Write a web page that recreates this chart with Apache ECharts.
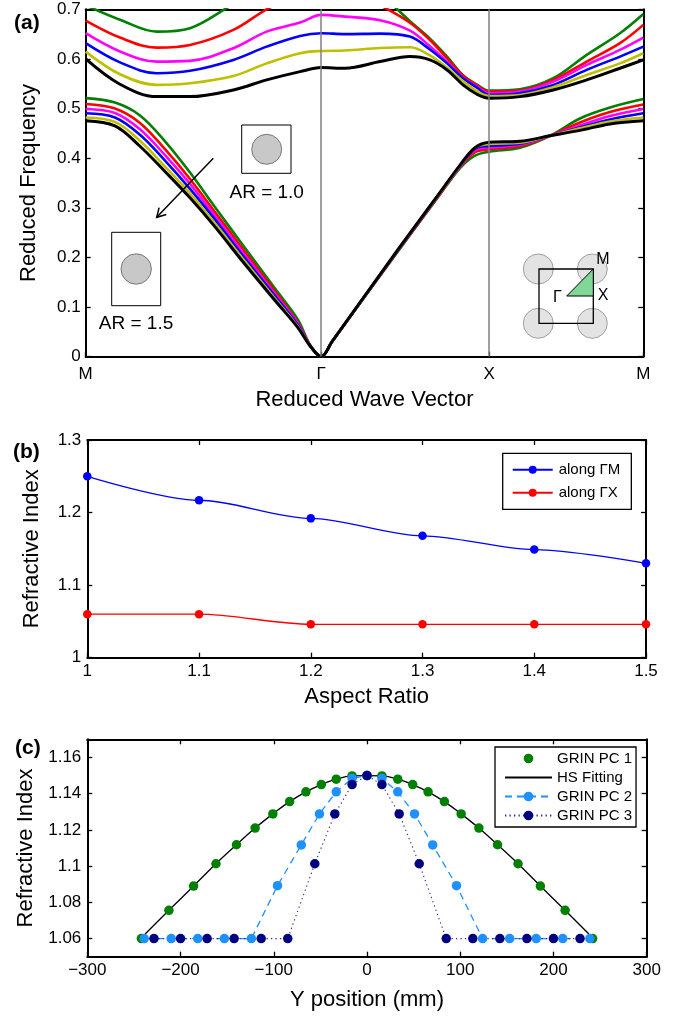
<!DOCTYPE html>
<html><head><meta charset="utf-8">
<script src="https://cdn.jsdelivr.net/npm/echarts@6/dist/echarts.min.js"></script>
<style>html,body{margin:0;padding:0;background:#fff}#c{width:675px;height:1018px}</style>
</head><body><div id="c"></div>
<script>
const FONT = '"Liberation Sans", Arial, Helvetica, sans-serif';

// ---------- Panel (a): band structure ----------
const kNodes = [0, 1.402, 2.402, 3.319];
const kLabels = ['M', 'Γ', 'X', 'M'];
const aspectRatios = ['1.0', '1.1', '1.2', '1.3', '1.4', '1.5'];
const bandColors = ['#008000', '#ff0000', '#ff00ff', '#0000ff', '#bfbf00', '#000000'];

// first band
const kLow = [0, 0.174, 0.323, 0.472, 0.621, 0.770, 0.948, 1.127, 1.264, 1.335, 1.402, 1.466, 1.871, 2.109, 2.228, 2.317, 2.402, 2.585, 2.764, 2.942, 3.121, 3.319];
const lowGreen   = [0.521, 0.512, 0.486, 0.434, 0.371, 0.301, 0.219, 0.137, 0.074, 0.024, 0, 0.030, 0.218, 0.327, 0.380, 0.405, 0.413, 0.421, 0.445, 0.480, 0.502, 0.519];
const lowRed     = [0.509, 0.500, 0.471, 0.418, 0.358, 0.291, 0.211, 0.131, 0.068, 0.023, 0, 0.030, 0.219, 0.328, 0.382, 0.412, 0.418, 0.4245, 0.445, 0.472, 0.493, 0.508];
const lowMagenta = [0.499, 0.491, 0.458, 0.406, 0.348, 0.283, 0.204, 0.126, 0.066, 0.022, 0, 0.030, 0.220, 0.329, 0.383, 0.416, 0.421, 0.427, 0.445, 0.466, 0.485, 0.499];
const lowBlue    = [0.4905, 0.482, 0.447, 0.395, 0.338, 0.276, 0.198, 0.122, 0.063, 0.022, 0, 0.030, 0.220, 0.330, 0.384, 0.419, 0.4245, 0.429, 0.445, 0.462, 0.478, 0.4905];
const lowYellow  = [0.482, 0.473, 0.435, 0.383, 0.329, 0.268, 0.192, 0.117, 0.060, 0.022, 0, 0.030, 0.221, 0.330, 0.385, 0.421, 0.4285, 0.431, 0.445, 0.460, 0.474, 0.482];
const lowBlack   = [0.4755, 0.465, 0.424, 0.373, 0.320, 0.2615, 0.186, 0.113, 0.058, 0.022, 0, 0.030, 0.2215, 0.331, 0.386, 0.421, 0.432, 0.434, 0.445, 0.456, 0.469, 0.4755];

// second band
const kUp = [0, 0.204, 0.423, 0.621, 0.879, 1.077, 1.276, 1.402, 1.543, 1.752, 1.930, 2.049, 2.151, 2.246, 2.329, 2.402, 2.585, 2.783, 2.982, 3.180, 3.319];
const upGreen   = [0.708, 0.679, 0.655, 0.662, 0.710, 0.740, 0.760, 0.770, 0.770, 0.730, 0.676, 0.641, 0.6047, 0.567, 0.548, 0.5361, 0.5389, 0.561, 0.6081, 0.6518, 0.6907];
const upRed     = [0.6772, 0.643, 0.6228, 0.628, 0.6585, 0.700, 0.730, 0.740, 0.740, 0.708, 0.673, 0.638, 0.601, 0.566, 0.547, 0.5341, 0.5361, 0.5577, 0.5946, 0.6317, 0.6686];
const upMagenta = [0.6518, 0.615, 0.5946, 0.596, 0.6216, 0.655, 0.6732, 0.6887, 0.6853, 0.678, 0.657, 0.6256, 0.594, 0.562, 0.544, 0.5308, 0.5341, 0.5543, 0.5879, 0.6182, 0.643];
const upBlue    = [0.6317, 0.593, 0.5712, 0.576, 0.598, 0.6248, 0.6464, 0.6518, 0.650, 0.651, 0.645, 0.619, 0.591, 0.561, 0.542, 0.5274, 0.5308, 0.5476, 0.578, 0.6047, 0.6248];
const upYellow  = [0.6147, 0.569, 0.5476, 0.551, 0.5657, 0.591, 0.6115, 0.616, 0.617, 0.622, 0.6236, 0.607, 0.582, 0.555, 0.535, 0.5254, 0.5274, 0.5429, 0.5677, 0.591, 0.6115];
const upBlack   = [0.600, 0.549, 0.524, 0.524, 0.5375, 0.5577, 0.5744, 0.5825, 0.5812, 0.5946, 0.6047, 0.598, 0.5778, 0.5476, 0.5288, 0.5207, 0.524, 0.5375, 0.5577, 0.5812, 0.598];

const lowBands = [lowGreen, lowRed, lowMagenta, lowBlue, lowYellow, lowBlack];
const upBands = [upGreen, upRed, upMagenta, upBlue, upYellow, upBlack];

// ---------- Panel (b): refractive index vs aspect ratio ----------
const arB = [1.0, 1.1, 1.2, 1.3, 1.4, 1.5];
const nGM = [1.250, 1.217, 1.192, 1.168, 1.149, 1.130];
const nGX = [1.060, 1.060, 1.046, 1.046, 1.046, 1.046];

// ---------- Panel (c): GRIN profiles ----------
const pc1X = [-242, -212.5, -186, -162, -140, -120, -101, -83, -65.5, -49, -33, -16, 0, 16, 33, 49, 65.5, 83, 101, 120, 140, 162, 186, 212.5, 242];
const pc1Y = [1.060, 1.0756, 1.089, 1.1013, 1.1118, 1.121, 1.1288, 1.1356, 1.141, 1.145, 1.148, 1.1498, 1.150, 1.1498, 1.148, 1.145, 1.141, 1.1356, 1.1288, 1.121, 1.1118, 1.1013, 1.089, 1.0756, 1.060];
const hsX = [-238, -212.5, -186, -162, -140, -120, -101, -83, -65.5, -49, -33, -16, 0, 16, 33, 49, 65.5, 83, 101, 120, 140, 162, 186, 212.5, 238];
const hsY = [1.0625, 1.0756, 1.089, 1.1013, 1.1118, 1.121, 1.1288, 1.1356, 1.141, 1.145, 1.148, 1.1498, 1.150, 1.1498, 1.148, 1.145, 1.141, 1.1356, 1.1288, 1.121, 1.1118, 1.1013, 1.089, 1.0756, 1.0625];
const pc2X = [-239, -210, -181.5, -153, -124, -96, -70.5, -51, -33, -16, 0, 16, 33, 51, 70.5, 96, 124, 153, 181.5, 210, 239];
const pc2Y = [1.06, 1.06, 1.06, 1.06, 1.06, 1.0892, 1.1117, 1.1288, 1.141, 1.1484, 1.150, 1.1484, 1.141, 1.1288, 1.1117, 1.0892, 1.06, 1.06, 1.06, 1.06, 1.06];
const pc3X = [-228.5, -200, -171.5, -142.5, -113.5, -85, -56, -34.5, -16, 0, 16, 34.5, 56, 85, 113.5, 142.5, 171.5, 200, 228.5];
const pc3Y = [1.06, 1.06, 1.06, 1.06, 1.06, 1.06, 1.1013, 1.1288, 1.145, 1.150, 1.145, 1.1288, 1.1013, 1.06, 1.06, 1.06, 1.06, 1.06, 1.06];
const yTicksC = [1.06, 1.08, 1.10, 1.12, 1.14, 1.16];

function zip(xs, ys) { return xs.map((x, i) => [x, ys[i]]); }

const chart = echarts.init(document.getElementById('c'), null, { renderer: 'canvas' });

const axLine = { show: true, onZero: false, lineStyle: { color: '#000', width: 2 } };
const tickIn = { show: true, inside: true, length: 5, lineStyle: { color: '#000', width: 1.3 } };
const lab = (extra) => Object.assign({ fontFamily: FONT, fontSize: 17, color: '#000' }, extra || {});
const nameStyle = { fontFamily: FONT, fontSize: 22, color: '#000' };

const xAxes = [
  { gridIndex: 0, type: 'value', position: 'bottom', min: 0, max: 3.319,
    axisLine: axLine, splitLine: { show: false },
    axisTick: Object.assign({}, tickIn, { customValues: kNodes }),
    axisLabel: lab({ margin: 9, customValues: kNodes,
      formatter: v => { const i = kNodes.findIndex(n => Math.abs(n - v) < 1e-6); return i >= 0 ? kLabels[i] : ''; } }),
    name: 'Reduced Wave Vector', nameLocation: 'middle', nameGap: 32, nameTextStyle: nameStyle },
  { gridIndex: 0, type: 'value', position: 'top', min: 0, max: 3.319,
    axisLine: axLine, axisTick: { show: false }, axisLabel: { show: false }, splitLine: { show: false } },
  { gridIndex: 1, type: 'value', position: 'bottom', min: 1, max: 1.5, interval: 0.1,
    axisLine: axLine, axisTick: tickIn, splitLine: { show: false },
    axisLabel: lab({ margin: 5 }),
    name: 'Aspect Ratio', nameLocation: 'middle', nameGap: 28, nameTextStyle: nameStyle },
  { gridIndex: 1, type: 'value', position: 'top', min: 1, max: 1.5, interval: 0.1,
    axisLine: axLine, axisTick: tickIn, axisLabel: { show: false }, splitLine: { show: false } },
  { gridIndex: 2, type: 'value', position: 'bottom', min: -300, max: 300, interval: 100,
    axisLine: axLine, axisTick: tickIn, splitLine: { show: false },
    axisLabel: lab({ margin: 5, formatter: v => v < 0 ? '\u2212' + Math.abs(v) : String(v) }),
    name: 'Y position (mm)', nameLocation: 'middle', nameGap: 32, nameTextStyle: nameStyle },
  { gridIndex: 2, type: 'value', position: 'top', min: -300, max: 300, interval: 100,
    axisLine: axLine, axisTick: tickIn, axisLabel: { show: false }, splitLine: { show: false } }
];

const yAxes = [
  { gridIndex: 0, type: 'value', position: 'left', min: 0, max: 0.7, interval: 0.1,
    axisLine: axLine, axisTick: tickIn, splitLine: { show: false },
    axisLabel: lab({ margin: 5 }),
    name: 'Reduced Frequency', nameLocation: 'middle', nameGap: 46, nameTextStyle: nameStyle },
  { gridIndex: 0, type: 'value', position: 'right', min: 0, max: 0.7, interval: 0.1,
    axisLine: axLine, axisTick: tickIn, axisLabel: { show: false }, splitLine: { show: false } },
  { gridIndex: 1, type: 'value', position: 'left', min: 1, max: 1.3, interval: 0.1,
    axisLine: axLine, axisTick: tickIn, splitLine: { show: false },
    axisLabel: lab({ margin: 6 }),
    name: 'Refractive Index', nameLocation: 'middle', nameGap: 44, nameTextStyle: nameStyle },
  { gridIndex: 1, type: 'value', position: 'right', min: 1, max: 1.3, interval: 0.1,
    axisLine: axLine, axisTick: tickIn, axisLabel: { show: false }, splitLine: { show: false } },
  { gridIndex: 2, type: 'value', position: 'left', min: 1.05, max: 1.17,
    axisLine: axLine, splitLine: { show: false },
    axisTick: Object.assign({}, tickIn, { customValues: yTicksC }),
    axisLabel: lab({ margin: 6, customValues: yTicksC, formatter: v => String(+(+v).toFixed(2)) }),
    name: 'Refractive Index', nameLocation: 'middle', nameGap: 43, nameTextStyle: nameStyle },
  { gridIndex: 2, type: 'value', position: 'right', min: 1.05, max: 1.17,
    axisLine: axLine, axisLabel: { show: false }, splitLine: { show: false },
    axisTick: Object.assign({}, tickIn, { customValues: yTicksC }) }
];

const series = [];
// vertical symmetry-point lines
series.push({ name: 'sym-lines', type: 'line', xAxisIndex: 0, yAxisIndex: 0, data: [[1.402, -1]], symbol: 'none',
  silent: true, lineStyle: { opacity: 0 },
  markLine: { silent: true, symbol: 'none', label: { show: false },
    lineStyle: { color: '#808080', width: 1.5, type: 'solid' },
    data: [{ xAxis: kNodes[1] }, { xAxis: kNodes[2] }] } });
for (let i = 0; i < 6; i++) {
  const w = i === 5 ? 3 : 2.6;
  series.push({ name: 'AR = ' + aspectRatios[i] + ' band 1', type: 'line', xAxisIndex: 0, yAxisIndex: 0,
    data: zip(kLow, lowBands[i]), smooth: 0.35, symbol: 'none', clip: true,
    lineStyle: { color: bandColors[i], width: w }, itemStyle: { color: bandColors[i] } });
  series.push({ name: 'AR = ' + aspectRatios[i] + ' band 2', type: 'line', xAxisIndex: 0, yAxisIndex: 0,
    data: zip(kUp, upBands[i]), smooth: 0.35, symbol: 'none', clip: true,
    lineStyle: { color: bandColors[i], width: w }, itemStyle: { color: bandColors[i] } });
}
// panel (b)
series.push({ name: 'along ΓM', type: 'line', xAxisIndex: 2, yAxisIndex: 2, data: zip(arB, nGM),
  smooth: 0.3, smoothMonotone: 'x', symbol: 'circle', symbolSize: 8.5,
  lineStyle: { color: '#0000ff', width: 1.3 }, itemStyle: { color: '#0000ff' } });
series.push({ name: 'along ΓX', type: 'line', xAxisIndex: 2, yAxisIndex: 2, data: zip(arB, nGX),
  smooth: 0.3, smoothMonotone: 'x', symbol: 'circle', symbolSize: 8.5,
  lineStyle: { color: '#ff0000', width: 1.3 }, itemStyle: { color: '#ff0000' } });
// panel (c)
series.push({ name: 'GRIN PC 1', type: 'line', xAxisIndex: 4, yAxisIndex: 4, data: zip(pc1X, pc1Y),
  symbol: 'circle', symbolSize: 9.5, lineStyle: { opacity: 0, color: '#008000' }, itemStyle: { color: '#008000' } });
series.push({ name: 'HS Fitting', type: 'line', xAxisIndex: 4, yAxisIndex: 4, data: zip(hsX, hsY),
  smooth: 0.4, symbol: 'none', lineStyle: { color: '#000', width: 1.3 }, itemStyle: { color: '#000' } });
series.push({ name: 'GRIN PC 2', type: 'line', xAxisIndex: 4, yAxisIndex: 4, data: zip(pc2X, pc2Y),
  symbol: 'circle', symbolSize: 9.5, lineStyle: { color: '#1e90ff', width: 1.3, type: [7, 5] }, itemStyle: { color: '#1e90ff' } });
series.push({ name: 'GRIN PC 3', type: 'line', xAxisIndex: 4, yAxisIndex: 4, data: zip(pc3X, pc3Y),
  symbol: 'circle', symbolSize: 9.5, lineStyle: { color: '#2a2a9a', width: 1.1, type: [1.3, 3.2] }, itemStyle: { color: '#000080' } });

const gT = { font: '19px ' + FONT, fill: '#000', textAlign: 'center', textVerticalAlign: 'middle' };
const graphics = [
  { type: 'text', x: 14, y: 23, z: 100, style: { text: '(a)', font: 'bold 21px ' + FONT, fill: '#000', textVerticalAlign: 'middle' } },
  { type: 'text', x: 13, y: 452, z: 100, style: { text: '(b)', font: 'bold 21px ' + FONT, fill: '#000', textVerticalAlign: 'middle' } },
  { type: 'text', x: 15, y: 748, z: 100, style: { text: '(c)', font: 'bold 21px ' + FONT, fill: '#000', textVerticalAlign: 'middle' } },
  // AR = 1.0 inset
  { type: 'rect', z: 100, shape: { x: 241.7, y: 125, width: 49.3, height: 48.3 }, style: { fill: '#fff', stroke: '#000', lineWidth: 1 } },
  { type: 'circle', z: 101, shape: { cx: 266.7, cy: 149.3, r: 15 }, style: { fill: '#c8c8c8', stroke: '#606060', lineWidth: 0.8 } },
  { type: 'text', z: 100, x: 266.7, y: 193, style: Object.assign({ text: 'AR = 1.0' }, gT) },
  // AR = 1.5 inset
  { type: 'rect', z: 100, shape: { x: 111.7, y: 232.3, width: 49, height: 73.4 }, style: { fill: '#fff', stroke: '#000', lineWidth: 1 } },
  { type: 'circle', z: 101, shape: { cx: 136.2, cy: 269, r: 15.2 }, style: { fill: '#c8c8c8', stroke: '#606060', lineWidth: 0.8 } },
  { type: 'text', z: 100, x: 136, y: 323.5, style: Object.assign({ text: 'AR = 1.5' }, gT) },
  // arrow
  { type: 'polyline', z: 102, shape: { points: [[213.3, 158.3], [156.7, 217.3]] }, style: { stroke: '#000', lineWidth: 1.5, fill: null } },
  { type: 'polyline', z: 102, shape: { points: [[166.3, 214.5], [156.7, 217.3], [159.1, 207.6]] }, style: { stroke: '#000', lineWidth: 1.5, fill: null } },
  // Brillouin zone inset
  { type: 'circle', z: 100, shape: { cx: 538.3, cy: 269, r: 15 }, style: { fill: 'rgba(200,200,200,0.5)', stroke: 'rgba(140,140,140,0.8)', lineWidth: 1 } },
  { type: 'circle', z: 100, shape: { cx: 592.3, cy: 269, r: 15 }, style: { fill: 'rgba(200,200,200,0.5)', stroke: 'rgba(140,140,140,0.8)', lineWidth: 1 } },
  { type: 'circle', z: 100, shape: { cx: 538.3, cy: 323.3, r: 15 }, style: { fill: 'rgba(200,200,200,0.5)', stroke: 'rgba(140,140,140,0.8)', lineWidth: 1 } },
  { type: 'circle', z: 100, shape: { cx: 592.3, cy: 323.3, r: 15 }, style: { fill: 'rgba(200,200,200,0.5)', stroke: 'rgba(140,140,140,0.8)', lineWidth: 1 } },
  { type: 'rect', z: 101, shape: { x: 539, y: 269, width: 54.3, height: 54.3 }, style: { fill: null, stroke: '#000', lineWidth: 1.3 } },
  { type: 'polygon', z: 102, shape: { points: [[566.7, 296], [593.3, 269], [593.3, 296]] }, style: { fill: '#80d898', stroke: '#000', lineWidth: 1 } },
  { type: 'text', z: 103, x: 603, y: 260, style: { text: 'M', font: '16px ' + FONT, fill: '#000', textAlign: 'center', textVerticalAlign: 'middle' } },
  { type: 'text', z: 103, x: 557.5, y: 297.5, style: { text: 'Γ', font: '16px ' + FONT, fill: '#000', textAlign: 'center', textVerticalAlign: 'middle' } },
  { type: 'text', z: 103, x: 603, y: 296, style: { text: 'X', font: '16px ' + FONT, fill: '#000', textAlign: 'center', textVerticalAlign: 'middle' } }
];

chart.setOption({
  animation: false,
  backgroundColor: '#fff',
  textStyle: { fontFamily: FONT },
  grid: [
    { left: 85.7, top: 9.3, width: 557.6, height: 347.3 },
    { left: 87.3, top: 440, width: 558.7, height: 217.7 },
    { left: 87.3, top: 739.3, width: 559.4, height: 217.4 }
  ],
  xAxis: xAxes,
  yAxis: yAxes,
  legend: [
    { data: ['along ΓM', 'along ΓX'], orient: 'vertical', left: 502.7, top: 453.3,
      padding: [9, 11, 9, 9], itemWidth: 40, itemHeight: 10, itemGap: 8, align: 'left',
      borderColor: '#000', borderWidth: 1.3, backgroundColor: '#fff', selectedMode: false,
      textStyle: { fontFamily: FONT, fontSize: 15, color: '#000', padding: [0, 0, 0, 1] } },
    { data: ['GRIN PC 1', { name: 'HS Fitting', itemStyle: { opacity: 0 } }, 'GRIN PC 2', 'GRIN PC 3'],
      orient: 'vertical', left: 495, top: 747,
      padding: [4, 4, 4, 9], itemWidth: 47, itemHeight: 12, itemGap: 4, align: 'left',
      borderColor: '#000', borderWidth: 1.3, backgroundColor: '#fff', selectedMode: false,
      textStyle: { fontFamily: FONT, fontSize: 15, color: '#000' } }
  ],
  series: series,
  graphic: graphics
});
</script></body></html>
